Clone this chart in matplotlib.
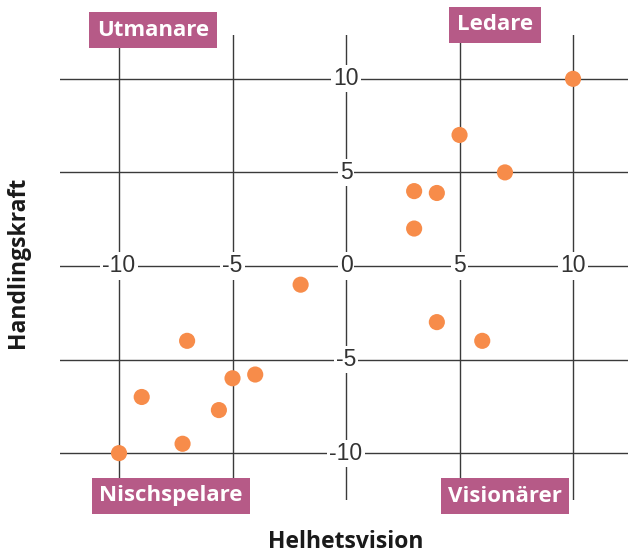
import matplotlib.pyplot as plt

# data
helhetsvision = [10, 5, 7, 3, 4, 3, -2, -7, -4, -5, -9, -5.6, -7.2, -10, 4, 6]
handlingskraft = [10, 7, 5, 4, 3.9, 2, -1, -4, -5.8, -6, -7, -7.7, -9.5, -10, -3, -4]
ticks = [-10, -5, 0, 5, 10]
quadrants = ["Utmanare", "Ledare", "Nischspelare", "Visionärer"]

dot_color = '#f78c4a'
box_color = '#b65a87'
line_color = '#3a3a3a'

fig = plt.figure(figsize=(6.28, 5.53), dpi=100)
ax = fig.add_axes([0.0955, 0.096, 0.9045, 0.841])
ax.set_xlim(-12.6, 12.42)
ax.set_ylim(-12.5, 12.35)
ax.axis('off')

# grid
for t in ticks:
    ax.axvline(t, color=line_color, lw=1, zorder=1)
    ax.axhline(t, color=line_color, lw=1, zorder=1)

# tick labels sitting on the centre axes
tick_font = dict(family='Liberation Sans', fontsize=16.5, color='#333333',
                 ha='center', va='center', zorder=3,
                 bbox=dict(facecolor='white', edgecolor='none', pad=1.5))
for t in ticks:
    ax.text(t, 0, str(t), **tick_font)
for t in ticks:
    if t != 0:
        ax.text(0, t, str(t), **tick_font)

ax.scatter(helhetsvision, handlingskraft, s=135, color=dot_color, zorder=4,
           edgecolors='none')

# quadrant labels (pixel centres converted to figure fractions)
W, H = 628, 553
label_pos = [(153, 30), (495, 25), (171, 496), (505, 496)]
for name, (px, py) in zip(quadrants, label_pos):
    fig.text(px / W, 1 - py / H, name, family='Open Sans', fontweight='bold',
             fontsize=16, color='white', ha='center', va='center', zorder=5,
             bbox=dict(facecolor=box_color, edgecolor='none', pad=5.5))

fig.text(346 / W, 1 - 542 / H, "Helhetsvision", family='Open Sans',
         fontweight='bold', fontsize=16.5, color='#1a1a1a', ha='center', va='center')
fig.text(18 / W, 1 - 262 / H, "Handlingskraft", family='Open Sans',
         fontweight='bold', fontsize=16.5, color='#1a1a1a', ha='center', va='center',
         rotation=90)

fig.savefig('out.png', dpi=100)
